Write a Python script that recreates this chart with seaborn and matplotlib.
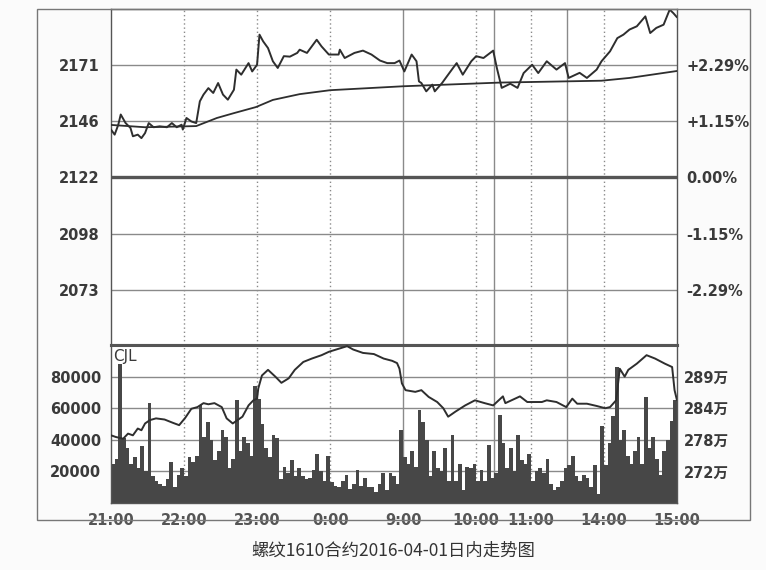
import numpy as np
import matplotlib
matplotlib.use('Agg')
import matplotlib.pyplot as plt
from matplotlib.patches import Rectangle
import seaborn as sns

# previous settlement (0.00% line)
PRE_CLOSE = 2122

# price trace, x in trading minutes from 21:00 (night 21:00-1:00, day 9:00-15:00)
price_min = [0, 3, 6, 8, 12, 16, 18, 22, 25, 28, 31, 35, 40, 46, 50, 54, 58, 59, 62, 66,
             70, 73, 76, 80, 84, 88, 92, 96, 101, 103, 107, 113, 116, 120, 122, 125, 129, 133, 137, 142,
             147, 153, 155, 161, 169, 173, 179, 187, 188, 192, 200, 207, 214, 221, 227, 233, 237, 241, 247, 251,
             253, 255, 259, 264, 266, 272, 276, 281, 284, 289, 296, 300, 306, 314, 317, 321, 328, 334, 339, 346,
             351, 358, 366, 373, 376, 385, 391, 399, 403, 410, 416, 421, 426, 432, 439, 443, 448, 454, 459, 462, 465]
price = [2142.5, 2140.3, 2144.6, 2149, 2145.3, 2143.2, 2139.6, 2140.3, 2138.8, 2141, 2145.3, 2143.5, 2143.9, 2143.5, 2145.3, 2143.5, 2144.6, 2142.5, 2147.5, 2146,
         2145.3, 2154.7, 2157.6, 2160.4, 2158.3, 2162.6, 2157.6, 2155.4, 2159.7, 2168.4, 2166.2, 2171.2, 2167.6, 2170.5, 2183.5, 2180.6, 2177.7, 2172, 2169.1, 2174.2,
         2174, 2175.6, 2177, 2175.6, 2181.3, 2178.4, 2174.9, 2174.9, 2177, 2173.4, 2175.6, 2176.6, 2174.9, 2172.3, 2171.2, 2171.2, 2172.3, 2167.6, 2174.9, 2172,
         2163.3, 2162.6, 2159, 2161.9, 2159, 2162.6, 2165.5, 2169.1, 2171.2, 2166.2, 2172, 2174.2, 2173.4, 2176.6, 2169.1, 2160.5, 2162.3, 2160.5, 2166.9, 2170.5,
         2166.9, 2172, 2168.4, 2171.2, 2164.8, 2167, 2164.8, 2168.4, 2172, 2176.3, 2182, 2183.5, 2185.7, 2187.1, 2191.4, 2184.2, 2186.4, 2187.8, 2194.3, 2192.8, 2191]

# average price line
avg_min = [0, 28, 70, 87, 101, 119, 133, 155, 180, 240, 320, 403, 426, 465]
avg_price = [2144.5, 2143.5, 2144, 2147.5, 2149.6, 2152.2, 2155.3, 2157.8, 2159.5, 2161.2, 2162.8, 2163.6, 2164.8, 2167.8]

# volume (CJL), one value per 3 trading minutes
volume = [25000, 28000, 88000, 41000, 35000, 25000, 29000, 22000, 36000, 20000,
          63000, 17000, 14000, 12000, 11000, 15000, 26000, 10000, 18000, 22000,
          17000, 29000, 26000, 30000, 62000, 42000, 51000, 40000, 27000, 33000,
          46000, 42000, 22000, 28000, 65000, 33000, 42000, 38000, 30000, 74000,
          66000, 50000, 35000, 29000, 43000, 41000, 15000, 23000, 19000, 27000,
          17000, 22000, 17000, 15000, 16000, 21000, 31000, 20000, 14000, 30000,
          13000, 11000, 10000, 14000, 18000, 9000, 12000, 21000, 11000, 16000,
          10000, 10000, 7000, 12000, 19000, 8000, 19000, 17000, 12000, 46000,
          29000, 25000, 33000, 23000, 59000, 51000, 40000, 17000, 33000, 22000,
          20000, 35000, 14000, 43000, 14000, 25000, 8000, 23000, 22000, 25000,
          14000, 21000, 14000, 37000, 16000, 19000, 56000, 38000, 22000, 35000,
          20000, 43000, 27000, 25000, 31000, 14000, 20000, 22000, 19000, 28000,
          12000, 8000, 10000, 14000, 22000, 24000, 30000, 17000, 14000, 18000,
          16000, 10000, 24000, 6000, 49000, 24000, 38000, 55000, 86000, 40000,
          46000, 30000, 25000, 33000, 42000, 25000, 67000, 35000, 42000, 28000,
          18000, 33000, 40000, 52000, 65000]

# open interest (万)
oi_min = [0, 4, 10, 14, 18, 22, 25, 28, 32, 37, 44, 51, 56, 61, 66, 71, 76, 80, 85, 91,
          95, 100, 104, 108, 113, 117, 120, 121, 124, 129, 135, 140, 146, 151, 158, 165, 173, 179, 185, 194,
          199, 207, 216, 224, 231, 235, 237, 239, 242, 250, 255, 261, 268, 273, 277, 283, 291, 299, 307, 314,
          322, 324, 329, 336, 342, 354, 358, 366, 374, 379, 383, 391, 399, 406, 410, 415, 418, 422, 425, 432,
          440, 447, 455, 461, 463, 465]
oi = [278.8, 278.5, 278.2, 279.1, 278.8, 280.0, 279.7, 280.9, 281.5, 281.8, 281.6, 281.0, 280.6, 281.9, 283.5, 283.8, 284.5, 284.3, 284.5, 283.8,
      281.8, 280.9, 281.5, 282.1, 284.1, 285.0, 285.3, 287.1, 289.4, 290.4, 289.2, 288.1, 288.9, 290.4, 291.8, 292.4, 293.0, 293.6, 294.0, 294.6,
      294.0, 293.4, 293.2, 292.4, 292.0, 291.6, 290.6, 288.0, 286.8, 286.5, 286.8, 285.6, 284.7, 283.6, 282.1, 283.0, 284.1, 285.0, 284.5, 284.1,
      285.7, 284.5, 285.0, 285.7, 284.7, 284.7, 285.0, 284.7, 283.8, 285.3, 284.4, 284.4, 284.0, 283.6, 283.8, 285.0, 290.6, 289.2, 290.4, 291.5,
      293.0, 292.4, 291.5, 290.9, 286.8, 285.0]

time_ticks = [0, 60, 120, 180, 240, 300, 345, 405, 465]
time_labels = ['21:00', '22:00', '23:00', '0:00', '9:00', '10:00', '11:00', '14:00', '15:00']
pct_ticks = [2.29, 1.15, 0.0, -1.15, -2.29]
pct_labels = ['+2.29%', '+1.15%', '0.00%', '-1.15%', '-2.29%']
vol_ticks = [20000, 40000, 60000, 80000]
oi_ticks = [272.4, 278.0, 283.6, 289.2]
oi_labels = ['272万', '278万', '284万', '289万']
caption = '螺纹1610合约2016-04-01日内走势图'

sns.set_style('white')
plt.rcParams['font.family'] = ['DejaVu Sans', 'Noto Sans CJK SC']

LINE = '#2e2e2e'
GRID = '#8a8a8a'
TXT = '#3a3a3a'

fig = plt.figure(figsize=(7.66, 5.70), dpi=100)
fig.patch.set_facecolor('#fbfbfb')

ax_p = fig.add_axes([0.1449, 0.3947, 0.7389, 0.5895])
ax_v = fig.add_axes([0.1449, 0.1175, 0.7389, 0.2772])

# outer frame
fig.patches.append(Rectangle((0.0483, 0.0877), 0.9308, 0.8965, transform=fig.transFigure,
                             fill=False, edgecolor='#777777', linewidth=1.0))

span = 0.0342
lo, hi = PRE_CLOSE * (1 - span), PRE_CLOSE * (1 + span)

for ax in (ax_p, ax_v):
    ax.set_facecolor('white')
    ax.set_xlim(0, 465)
    for v in [240, 315, 375]:
        ax.axvline(v, color=GRID, lw=1.0, zorder=0)
    for v in [60, 120, 180, 300, 345, 405]:
        ax.axvline(v, color=GRID, lw=1.0, ls=(0, (1, 2)), zorder=0)
    for s in ax.spines.values():
        s.set_color('#555555')
        s.set_linewidth(1.0)

# price panel
price_ticks = [PRE_CLOSE * (1 + p / 100) for p in pct_ticks]
for t in price_ticks:
    if t != PRE_CLOSE:
        ax_p.axhline(t, color=GRID, lw=1.0, zorder=0)
ax_p.axhline(PRE_CLOSE, color='#555555', lw=2.4, zorder=1)
sns.lineplot(x=avg_min, y=avg_price, ax=ax_p, color=LINE, lw=1.3, zorder=3)
sns.lineplot(x=price_min, y=price, ax=ax_p, color=LINE, lw=1.4, zorder=4)
ax_p.set_ylim(lo, hi)
ax_p.set_yticks(price_ticks)
ax_p.set_yticklabels([f'{t:.0f}' for t in price_ticks], fontsize=10.5, fontweight='bold', color=TXT)
ax_p.set_xticks([])
ax_p.set_xlabel('')
ax_p.set_ylabel('')
ax_p.tick_params(axis='y', length=0, pad=8)
ax_p.spines['bottom'].set_linewidth(2.2)

ax_pct = ax_p.twinx()
ax_pct.set_ylim((lo / PRE_CLOSE - 1) * 100, (hi / PRE_CLOSE - 1) * 100)
ax_pct.set_yticks(pct_ticks)
ax_pct.set_yticklabels(pct_labels, fontsize=10.5, fontweight='bold', color=TXT)
ax_pct.tick_params(axis='y', length=0, pad=7)
for s in ax_pct.spines.values():
    s.set_visible(False)

# volume panel
for t in vol_ticks:
    ax_v.axhline(t, color=GRID, lw=1.0, zorder=0)
bucket_start = np.arange(0, 465, 3)
sns.histplot(x=bucket_start, weights=volume, binwidth=3, binrange=(0, 465),
             color='#474747', edgecolor='none', linewidth=0, alpha=1, ax=ax_v, zorder=2)
ax_v.set_ylim(0, 100000)
ax_v.set_yticks(vol_ticks)
ax_v.set_yticklabels([str(t) for t in vol_ticks], fontsize=10.5, fontweight='bold', color=TXT)
ax_v.set_xticks(time_ticks)
ax_v.set_xticklabels(time_labels, fontsize=10.5, fontweight='bold', color='#555555')
ax_v.tick_params(axis='both', length=0, pad=7)
ax_v.set_xlabel('')
ax_v.set_ylabel('')
ax_v.spines['top'].set_linewidth(2.2)
ax_v.text(0.004, 0.975, 'CJL', transform=ax_v.transAxes, va='top', ha='left',
          fontsize=11, color=TXT)

ax_oi = ax_v.twinx()
sns.lineplot(x=oi_min, y=oi, ax=ax_oi, color=LINE, lw=1.4, zorder=4)
ax_oi.set_ylim(266.8, 294.8)
ax_oi.set_yticks(oi_ticks)
ax_oi.set_yticklabels(oi_labels, fontsize=10.5, fontweight='bold', color=TXT)
ax_oi.tick_params(axis='y', length=0, pad=5)
ax_oi.set_ylabel('')
for s in ax_oi.spines.values():
    s.set_visible(False)

fig.text(0.513, 0.033, caption, ha='center', va='center', fontsize=12.5,
         family=['Noto Sans CJK SC', 'DejaVu Sans'], color='#333333')

fig.savefig('out.png', dpi=100)
